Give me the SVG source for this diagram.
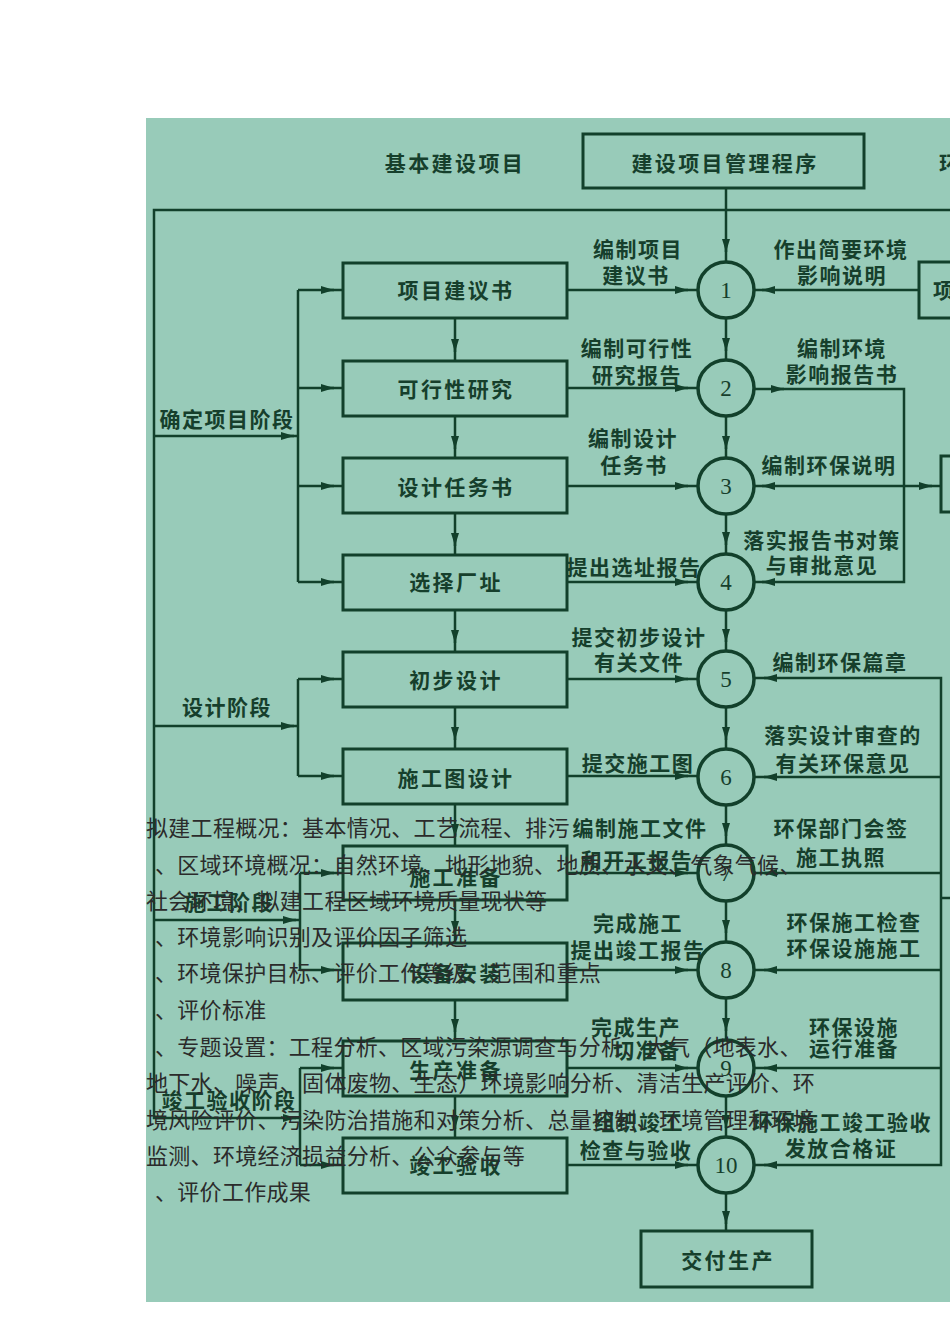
<svg xmlns="http://www.w3.org/2000/svg" width="950" height="1344" viewBox="0 0 950 1344">
<style>
.box{fill:none;stroke:#12402b;stroke-width:3}
.ln{fill:none;stroke:#12402b;stroke-width:2.5}
.cir{fill:none;stroke:#12402b;stroke-width:3.5}
.ah{fill:none;stroke:#12402b;stroke-width:2.5}
.t{font-family:"Noto Sans CJK SC","Noto Sans",sans-serif;font-weight:700;font-size:21px;fill:#163f2c;text-anchor:middle;letter-spacing:2.4px}
.l{font-family:"Noto Sans CJK SC","Noto Sans",sans-serif;font-weight:700;font-size:21px;fill:#163f2c;text-anchor:middle;letter-spacing:1.5px}
.n{font-family:"Liberation Serif",serif;font-size:23px;fill:#163f2c;text-anchor:middle}
.o{font-family:"Noto Sans CJK SC","Noto Sans",sans-serif;font-size:22px;fill:#2b2b2b;letter-spacing:0.3px}
</style>
<defs>
<marker id="ar" markerUnits="userSpaceOnUse" markerWidth="13" markerHeight="8" refX="13" refY="4" orient="auto">
<path d="M0,0 L13,4 L0,8 Z" fill="#12402b"/>
</marker>
</defs>
<rect x="0" y="0" width="950" height="1344" fill="#ffffff"/>
<rect x="146" y="118" width="804" height="1184" fill="#98cbb9"/>

<g id="connectors">
<!-- top loop and left trunk -->
<path class="ln" d="M950,210 H154 V1118 H300"/>
<path class="ln" d="M726,188 V262"/>
<path class="ah" d="M726,244 V252" marker-end="url(#ar)"/>
<!-- phase horizontals -->
<path class="ln" d="M154,436 H298"/>
<path class="ah" d="M284,436 H294" marker-end="url(#ar)"/>
<path class="ln" d="M154,726 H298"/>
<path class="ah" d="M284,726 H294" marker-end="url(#ar)"/>
<path class="ln" d="M154,920 H300"/>
<path class="ah" d="M286,920 H296" marker-end="url(#ar)"/>
<path class="ah" d="M286,1118 H296" marker-end="url(#ar)"/>
<!-- branch verticals -->
<path class="ln" d="M298,290 V582 M298,679 V776 M300,873 V970 M300,1068 V1165"/>
<!-- branch to boxes -->
<path class="ln" d="M298,290 H343 M298,388 H343 M298,486 H343 M298,582 H343 M298,679 H343 M298,776 H343 M300,873 H343 M300,970 H343 M300,1068 H343 M300,1165 H343"/>
<g class="ah">
<path d="M325,290 H334" marker-end="url(#ar)"/>
<path d="M325,388 H334" marker-end="url(#ar)"/>
<path d="M325,486 H334" marker-end="url(#ar)"/>
<path d="M325,582 H334" marker-end="url(#ar)"/>
<path d="M325,679 H334" marker-end="url(#ar)"/>
<path d="M325,776 H334" marker-end="url(#ar)"/>
<path d="M325,873 H334" marker-end="url(#ar)"/>
<path d="M325,970 H334" marker-end="url(#ar)"/>
<path d="M325,1068 H334" marker-end="url(#ar)"/>
<path d="M325,1165 H334" marker-end="url(#ar)"/>
</g>
<!-- box to box -->
<path class="ln" d="M455,318 V361 M455,416 V458 M455,513 V555 M455,610 V652 M455,707 V749 M455,804 V846 M455,900 V943 M455,1000 V1041 M455,1096 V1138"/>
<g class="ah">
<path d="M455,343 V352" marker-end="url(#ar)"/>
<path d="M455,440 V449" marker-end="url(#ar)"/>
<path d="M455,537 V546" marker-end="url(#ar)"/>
<path d="M455,634 V643" marker-end="url(#ar)"/>
<path d="M455,731 V740" marker-end="url(#ar)"/>
<path d="M455,828 V837" marker-end="url(#ar)"/>
<path d="M455,925 V934" marker-end="url(#ar)"/>
<path d="M455,1023 V1032" marker-end="url(#ar)"/>
<path d="M455,1120 V1129" marker-end="url(#ar)"/>
</g>
<!-- box to circle -->
<path class="ln" d="M567,290 H698 M567,388 H698 M567,486 H698 M567,582 H698 M567,679 H698 M567,776 H698 M567,873 H698 M567,970 H698 M567,1068 H698 M567,1165 H698"/>
<g class="ah">
<path d="M678,290 H688" marker-end="url(#ar)"/>
<path d="M678,388 H688" marker-end="url(#ar)"/>
<path d="M678,486 H688" marker-end="url(#ar)"/>
<path d="M678,582 H688" marker-end="url(#ar)"/>
<path d="M678,679 H688" marker-end="url(#ar)"/>
<path d="M678,776 H688" marker-end="url(#ar)"/>
<path d="M678,873 H688" marker-end="url(#ar)"/>
<path d="M678,970 H688" marker-end="url(#ar)"/>
<path d="M678,1068 H688" marker-end="url(#ar)"/>
<path d="M678,1165 H688" marker-end="url(#ar)"/>
</g>
<!-- circle to circle -->
<path class="ln" d="M726,318 V360 M726,416 V458 M726,514 V554 M726,610 V651 M726,707 V749 M726,805 V845 M726,901 V942 M726,998 V1040 M726,1096 V1137 M726,1193 V1231"/>
<g class="ah">
<path d="M726,342 V351" marker-end="url(#ar)"/>
<path d="M726,440 V449" marker-end="url(#ar)"/>
<path d="M726,536 V545" marker-end="url(#ar)"/>
<path d="M726,633 V642" marker-end="url(#ar)"/>
<path d="M726,731 V740" marker-end="url(#ar)"/>
<path d="M726,827 V836" marker-end="url(#ar)"/>
<path d="M726,924 V933" marker-end="url(#ar)"/>
<path d="M726,1022 V1031" marker-end="url(#ar)"/>
<path d="M726,1119 V1128" marker-end="url(#ar)"/>
<path d="M726,1214 V1224" marker-end="url(#ar)"/>
</g>
<!-- right side -->
<path class="ln" d="M919,290 H754"/>
<path class="ah" d="M772,290 H762" marker-end="url(#ar)"/>
<path class="ln" d="M754,389 H904 V582 H754"/>
<path class="ah" d="M774,389 H784" marker-end="url(#ar)"/>
<path class="ah" d="M772,582 H762" marker-end="url(#ar)"/>
<path class="ln" d="M941,486 H754"/>
<path class="ah" d="M772,486 H762" marker-end="url(#ar)"/>
<path class="ah" d="M922,486 H932" marker-end="url(#ar)"/>
<path class="ln" d="M754,678 H941 V1165 H754 M941,777 H754 M941,873 H754 M941,970 H754 M941,1068 H754 M941,898 H950"/>
<g class="ah">
<path d="M774,678 H764" marker-end="url(#ar)"/>
<path d="M774,777 H764" marker-end="url(#ar)"/>
<path d="M774,873 H764" marker-end="url(#ar)"/>
<path d="M774,970 H764" marker-end="url(#ar)"/>
<path d="M774,1068 H764" marker-end="url(#ar)"/>
<path d="M774,1165 H764" marker-end="url(#ar)"/>
</g>
</g>

<g id="title-left"><text class="t" x="455" y="171">基本建设项目</text></g>
<g id="title-right-partial"><text class="t" x="939" y="171" style="text-anchor:start">环</text></g>
<g id="node-main"><rect class="box" x="583" y="134" width="281" height="54"/><text class="t" x="725" y="171">建设项目管理程序</text></g>

<g id="node-b1"><rect class="box" x="343" y="263" width="224" height="55"/><text class="t" x="456" y="298">项目建议书</text></g>
<g id="node-b2"><rect class="box" x="343" y="361" width="224" height="55"/><text class="t" x="456" y="397">可行性研究</text></g>
<g id="node-b3"><rect class="box" x="343" y="458" width="224" height="55"/><text class="t" x="456" y="495">设计任务书</text></g>
<g id="node-b4"><rect class="box" x="343" y="555" width="224" height="55"/><text class="t" x="456" y="590">选择厂址</text></g>
<g id="node-b5"><rect class="box" x="343" y="652" width="224" height="55"/><text class="t" x="456" y="688">初步设计</text></g>
<g id="node-b6"><rect class="box" x="343" y="749" width="224" height="55"/><text class="t" x="456" y="786">施工图设计</text></g>
<g id="node-b7"><rect class="box" x="343" y="846" width="224" height="54"/><text class="t" x="456" y="885">施工准备</text></g>
<g id="node-b8"><rect class="box" x="343" y="943" width="224" height="57"/><text class="t" x="456" y="981">设备安装</text></g>
<g id="node-b9"><rect class="box" x="343" y="1041" width="224" height="55"/><text class="t" x="456" y="1078">生产准备</text></g>
<g id="node-b10"><rect class="box" x="343" y="1138" width="224" height="55"/><text class="t" x="456" y="1173">竣工验收</text></g>

<g id="node-c1"><circle class="cir" cx="726" cy="290" r="28"/><text class="n" x="726" y="298">1</text></g>
<g id="node-c2"><circle class="cir" cx="726" cy="388" r="28"/><text class="n" x="726" y="396">2</text></g>
<g id="node-c3"><circle class="cir" cx="726" cy="486" r="28"/><text class="n" x="726" y="494">3</text></g>
<g id="node-c4"><circle class="cir" cx="726" cy="582" r="28"/><text class="n" x="726" y="590">4</text></g>
<g id="node-c5"><circle class="cir" cx="726" cy="679" r="28"/><text class="n" x="726" y="687">5</text></g>
<g id="node-c6"><circle class="cir" cx="726" cy="777" r="28"/><text class="n" x="726" y="785">6</text></g>
<g id="node-c7"><circle class="cir" cx="726" cy="873" r="28"/><text class="n" x="726" y="881">7</text></g>
<g id="node-c8"><circle class="cir" cx="726" cy="970" r="28"/><text class="n" x="726" y="978">8</text></g>
<g id="node-c9"><circle class="cir" cx="726" cy="1068" r="28"/><text class="n" x="726" y="1076">9</text></g>
<g id="node-c10"><circle class="cir" cx="726" cy="1165" r="28"/><text class="n" x="726" y="1173">10</text></g>

<g id="node-end"><rect class="box" x="641" y="1231" width="171" height="56"/><text class="t" x="728" y="1268">交付生产</text></g>
<g id="node-r1-partial"><rect class="box" x="919" y="262" width="40" height="56"/><text class="t" x="933" y="298" style="text-anchor:start">项</text></g>
<g id="node-r3-partial"><rect class="box" x="941" y="456" width="30" height="56"/></g>

<g id="phase-labels">
<text class="l" x="227" y="427">确定项目阶段</text>
<text class="l" x="227" y="715">设计阶段</text>
<text class="l" x="229" y="910">施工阶段</text>
<text class="l" x="229" y="1108">竣工验收阶段</text>
</g>

<g id="left-labels">
<text class="l" x="638" y="257">编制项目</text>
<text class="l" x="636" y="283">建议书</text>
<text class="l" x="637" y="356">编制可行性</text>
<text class="l" x="637" y="383">研究报告</text>
<text class="l" x="633" y="446">编制设计</text>
<text class="l" x="634" y="473">任务书</text>
<text class="l" x="634" y="575">提出选址报告</text>
<text class="l" x="639" y="645">提交初步设计</text>
<text class="l" x="639" y="670">有关文件</text>
<text class="l" x="638" y="771">提交施工图</text>
<text class="l" x="640" y="836">编制施工文件</text>
<text class="l" x="637" y="868">和开工报告</text>
<text class="l" x="638" y="931">完成施工</text>
<text class="l" x="638" y="958">提出竣工报告</text>
<text class="l" x="636" y="1035">完成生产</text>
<text class="l" x="647" y="1058">切准备</text>
<text class="l" x="639" y="1130">组织竣工</text>
<text class="l" x="636" y="1158">检查与验收</text>
</g>

<g id="right-labels">
<text class="l" x="841" y="257">作出简要环境</text>
<text class="l" x="842" y="283">影响说明</text>
<text class="l" x="842" y="356">编制环境</text>
<text class="l" x="842" y="382">影响报告书</text>
<text class="l" x="829" y="473">编制环保说明</text>
<text class="l" x="822" y="548">落实报告书对策</text>
<text class="l" x="822" y="573">与审批意见</text>
<text class="l" x="840" y="670">编制环保篇章</text>
<text class="l" x="843" y="743">落实设计审查的</text>
<text class="l" x="843" y="771">有关环保意见</text>
<text class="l" x="841" y="836">环保部门会签</text>
<text class="l" x="841" y="865">施工执照</text>
<text class="l" x="854" y="930">环保施工检查</text>
<text class="l" x="854" y="956">环保设施施工</text>
<text class="l" x="854" y="1035">环保设施</text>
<text class="l" x="854" y="1056">运行准备</text>
<text class="l" x="842" y="1130">环保施工竣工验收</text>
<text class="l" x="841" y="1156">发放合格证</text>
</g>

<g id="overlay-text">
<text class="o" x="146" y="836">拟建工程概况：基本情况、工艺流程、排污</text>
<text class="o" x="155" y="873">、区域环境概况：自然环境、地形地貌、地质、水文、气象气候、</text>
<text class="o" x="146" y="909">社会环境、拟建工程区域环境质量现状等</text>
<text class="o" x="155" y="945">、环境影响识别及评价因子筛选</text>
<text class="o" x="155" y="981">、环境保护目标、评价工作等级、范围和重点</text>
<text class="o" x="155" y="1018">、评价标准</text>
<text class="o" x="155" y="1055">、专题设置：工程分析、区域污染源调查与分析、大气（地表水、</text>
<text class="o" x="146" y="1091">地下水、噪声、固体废物、生态）环境影响分析、清洁生产评价、环</text>
<text class="o" x="146" y="1128">境风险评价、污染防治措施和对策分析、总量控制、环境管理和环境</text>
<text class="o" x="146" y="1164">监测、环境经济损益分析、公众参与等</text>
<text class="o" x="155" y="1200">、评价工作成果</text>
</g>
</svg>
